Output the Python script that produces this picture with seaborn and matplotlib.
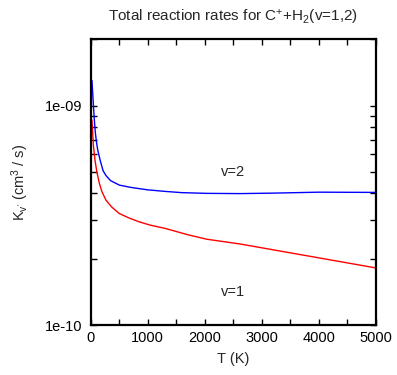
import numpy as np
import pandas as pd
import matplotlib
matplotlib.use("Agg")
import matplotlib.pyplot as plt
import matplotlib.ticker as mticker
import seaborn as sns

# Data
T_v1 = [25, 50, 80, 110, 155, 200, 270, 370, 505, 680, 855, 1050, 1320, 1700,
        2035, 2620, 3735, 5000]
K_v1 = [8.6e-10, 6.6e-10, 5.6e-10, 5.0e-10, 4.42e-10, 4.05e-10, 3.71e-10,
        3.45e-10, 3.22e-10, 3.07e-10, 2.95e-10, 2.85e-10, 2.75e-10, 2.58e-10,
        2.46e-10, 2.34e-10, 2.08e-10, 1.82e-10]
T_v2 = [25, 40, 55, 70, 85, 105, 125, 150, 180, 220, 270, 350, 505, 700, 860,
        1000, 1320, 1600, 2040, 2620, 3200, 4000, 5000]
K_v2 = [1.3e-9, 1.12e-9, 9.6e-10, 8.4e-10, 7.5e-10, 6.8e-10, 6.3e-10, 5.9e-10,
        5.5e-10, 5.05e-10, 4.8e-10, 4.55e-10, 4.34e-10, 4.24e-10, 4.18e-10,
        4.13e-10, 4.06e-10, 4.01e-10, 3.98e-10, 3.97e-10, 3.99e-10, 4.03e-10,
        4.02e-10]
series = ["v=1", "v=2"]
colors = ["#ff0000", "#0000ff"]
label_T = [2500, 2500]
label_K = [1.41e-10, 4.97e-10]

df = pd.DataFrame({
    "T": T_v1 + T_v2,
    "K": K_v1 + K_v2,
    "v": [series[0]] * len(T_v1) + [series[1]] * len(T_v2),
})

sns.set_theme(style="ticks")
plt.rcParams["font.family"] = ["Liberation Sans", "DejaVu Sans"]
plt.rcParams["mathtext.default"] = "regular"

FS = 10.5
fig = plt.figure(figsize=(3.97, 3.75), dpi=100)
ax = fig.add_axes([0.228, 0.1333, 0.719, 0.7614])
sns.lineplot(data=df, x="T", y="K", hue="v", palette=dict(zip(series, colors)),
             linewidth=1.0, legend=False, ax=ax, estimator=None, sort=False)
ax.set_yscale("log")
ax.set_xlim(0, 5000)
ax.set_ylim(1e-10, 2e-9)

ax.xaxis.set_major_locator(mticker.MultipleLocator(1000))
ax.xaxis.set_minor_locator(mticker.MultipleLocator(500))
ax.yaxis.set_major_locator(mticker.FixedLocator([1e-10, 1e-9]))
ax.yaxis.set_major_formatter(mticker.FixedFormatter(["1e-10", "1e-09"]))
ax.yaxis.set_minor_locator(mticker.LogLocator(base=10, subs=np.arange(2, 10)))
ax.yaxis.set_minor_formatter(mticker.NullFormatter())

ax.tick_params(which="both", direction="in", top=True, right=True,
               labelsize=FS, color="black", labelcolor="black", width=1.0)
ax.tick_params(which="major", length=4)
ax.tick_params(which="minor", length=4)
ax.tick_params(axis="x", which="major", pad=4)
ax.tick_params(axis="y", which="major", pad=6)
for s in ax.spines.values():
    s.set_linewidth(1.6)
    s.set_color("black")

ax.set_xlabel("T (K)", fontsize=FS, labelpad=5)
ax.set_ylabel("K$_{v'}$ (cm$^3$ / s)", fontsize=FS, labelpad=10)
ax.set_title("Total reaction rates for C$^{+}$+H$_2$(v=1,2)", fontsize=11, pad=13)

for s, t, k in zip(series, label_T, label_K):
    ax.text(t, k, s, fontsize=FS, ha="center", va="center")

fig.savefig("out.png", dpi=100)
